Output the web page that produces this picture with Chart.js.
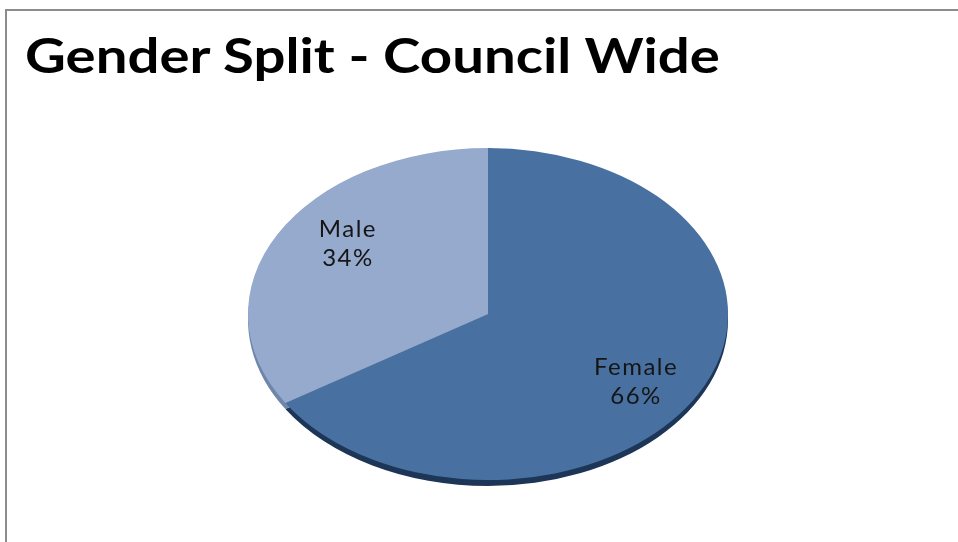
<!DOCTYPE html>
<html>
<head>
<meta charset="utf-8">
<script src="https://cdn.jsdelivr.net/npm/chart.js@4"></script>
<style>
  html, body { margin: 0; padding: 0; background: #fff; }
  #wrap { position: relative; width: 958px; height: 542px; overflow: hidden; }
  #frame { position: absolute; left: 5px; top: 9px; right: -4px; bottom: -4px;
           border-top: 2px solid #8c8c8c; border-left: 2px solid #8c8c8c; }
  #title { position: absolute; left: 25px; top: 26px; margin: 0;
           font: bold 48px Lato, 'Open Sans', sans-serif; color: #000; white-space: nowrap;
           transform-origin: 0 0; }
  canvas { position: absolute; left: 0; top: 0; }
</style>
</head>
<body>
<div id="wrap">
  <div id="frame"></div>
  <h1 id="title">Gender Split - Council Wide</h1>
  <canvas id="pie" width="958" height="542"></canvas>
</div>
<script>
// ─── Data ───
const labels = ['Female', 'Male'];
const values = [66, 34];
const colors = ['#4871a2', '#95aacc'];
const sideColors = ['#1d3556', '#6f86ab'];

// ─── Look ───
const CX = 488, CY = 314;      // ellipse centre on the page
const SQUASH = 166 / 240;      // vertical / horizontal radius
const DEPTH = 6;               // 3-D rim thickness, px

// fit the title to the reference width
const t = document.getElementById('title');
t.style.transform = `scaleX(${695 / t.scrollWidth})`;

// flatten the pie into an ellipse and give it a rim
const tiltPlugin = {
  id: 'tilt',
  beforeDatasetsDraw(chart) {
    const ctx = chart.ctx;
    const arcs = chart.getDatasetMeta(0).data;
    ctx.save();
    ctx.translate(CX, CY);
    ctx.scale(1, SQUASH);
    ctx.translate(-arcs[0].x, -arcs[0].y);
    arcs.forEach((a, i) => {
      ctx.beginPath();
      ctx.moveTo(a.x, a.y + DEPTH / SQUASH);
      ctx.arc(a.x, a.y + DEPTH / SQUASH, a.outerRadius, a.startAngle, a.endAngle);
      ctx.closePath();
      ctx.fillStyle = sideColors[i];
      ctx.fill();
    });
  },
  afterDatasetsDraw(chart) {
    const ctx = chart.ctx;
    ctx.restore();
    const arcs = chart.getDatasetMeta(0).data;
    const total = values.reduce((s, v) => s + v, 0);
    ctx.save();
    ctx.font = '24px Lato, "Open Sans", sans-serif';
    ctx.letterSpacing = '1.5px';
    ctx.fillStyle = '#151515';
    ctx.textAlign = 'center';
    ctx.textBaseline = 'middle';
    arcs.forEach((a, i) => {
      const mid = (a.startAngle + a.endAngle) / 2;
      const x = CX + 4 + Math.cos(mid) * a.outerRadius * 0.685;
      const y = CY - 2 + Math.sin(mid) * a.outerRadius * 0.86 * SQUASH;
      ctx.fillText(labels[i], x, y - 14);
      ctx.fillText(Math.round(values[i] / total * 100) + '%', x, y + 15);
    });
    ctx.restore();
  }
};

new Chart(document.getElementById('pie'), {
  type: 'pie',
  data: {
    labels,
    datasets: [{ data: values, backgroundColor: colors, borderWidth: 0 }],
  },
  options: {
    responsive: false,
    animation: false,
    rotation: 0,
    layout: { padding: { left: 248, right: 230, top: 31, bottom: 31 } },
    plugins: { legend: { display: false }, tooltip: { enabled: false } },
  },
  plugins: [tiltPlugin],
});
</script>
</body>
</html>
